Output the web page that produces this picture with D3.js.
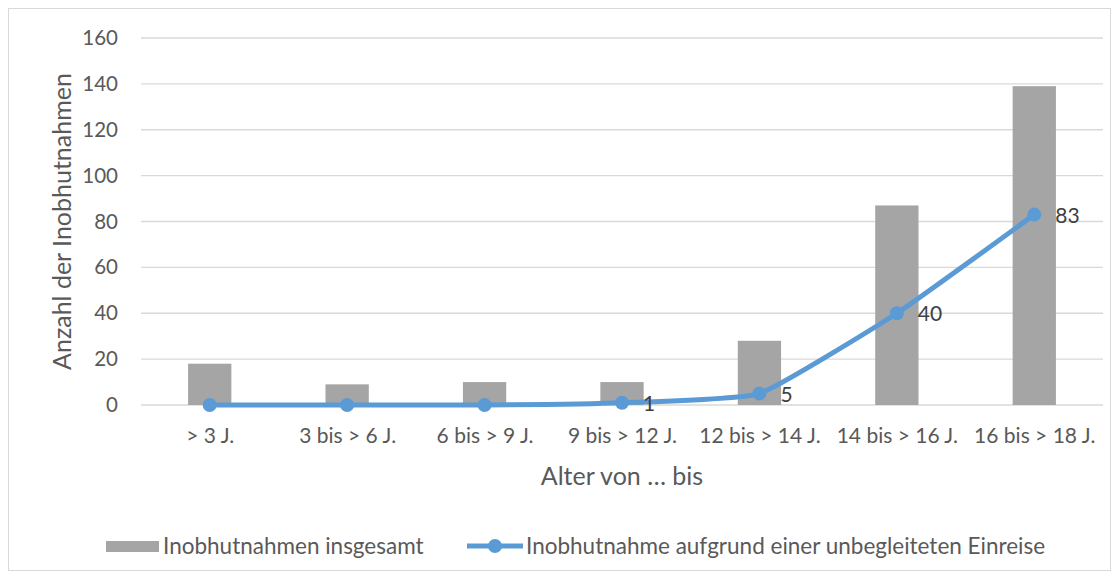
<!DOCTYPE html>
<html>
<head>
<meta charset="utf-8">
<script src="https://cdn.jsdelivr.net/npm/d3@7"></script>
<style>
  body { margin: 0; background: #fff; }
  svg text { font-family: Lato, "Open Sans", sans-serif; fill: #595959; }
</style>
</head>
<body>
<div id="chart"></div>
<script>
const categories = ["> 3 J.", "3 bis > 6 J.", "6 bis > 9 J.", "9 bis > 12 J.", "12 bis > 14 J.", "14 bis > 16 J.", "16 bis > 18 J."];
const totalValues = [18, 9, 10, 10, 28, 87, 139];
const unaccompaniedValues = [0, 0, 0, 1, 5, 40, 83];
const yTicks = [0, 20, 40, 60, 80, 100, 120, 140, 160];
const seriesNames = ["Inobhutnahmen insgesamt", "Inobhutnahme aufgrund einer unbegleiteten Einreise"];

const width = 1119, height = 579;
const margin = { top: 38, right: 16, bottom: 174, left: 141 };
const barColor = "#a5a5a5", lineColor = "#5b9bd5";

const svg = d3.select("#chart").append("svg")
  .attr("width", width)
  .attr("height", height);

// outer chart border
svg.append("rect")
  .attr("x", 8.5).attr("y", 8.5)
  .attr("width", width - 17).attr("height", height - 17)
  .attr("fill", "#fff")
  .attr("stroke", "#d9d9d9");

const x = d3.scaleBand()
  .domain(categories)
  .range([margin.left, width - margin.right])
  .paddingInner(0.685)
  .paddingOuter(0.3425);

const xc = d => x(d) + x.bandwidth() / 2;

const y = d3.scaleLinear()
  .domain([0, 160])
  .range([height - margin.bottom, margin.top]);

// gridlines
svg.append("g")
  .selectAll("line")
  .data(yTicks)
  .join("line")
  .attr("x1", margin.left)
  .attr("x2", width - margin.right)
  .attr("y1", d => y(d))
  .attr("y2", d => y(d))
  .attr("stroke", "#d9d9d9")
  .attr("stroke-width", 1.3);

// y axis labels
const yAxis = svg.append("g")
  .attr("transform", `translate(${margin.left - 23},0)`)
  .call(d3.axisLeft(y).tickValues(yTicks).tickSize(0).tickPadding(0));
yAxis.select(".domain").remove();
yAxis.selectAll("text")
  .style("font-size", "20.5px")
  .attr("fill", "#595959");

// x axis labels
const xAxis = svg.append("g")
  .attr("transform", `translate(0,${y(0)})`)
  .call(d3.axisBottom(d3.scalePoint().domain(categories).range([xc(categories[0]), xc(categories[6])])).tickSize(0).tickPadding(23));
xAxis.select(".domain").remove();
xAxis.selectAll("text")
  .style("font-size", "21px")
  .attr("fill", "#595959");

// bars
svg.append("g")
  .selectAll("rect")
  .data(totalValues)
  .join("rect")
  .attr("x", (d, i) => x(categories[i]))
  .attr("y", d => y(d))
  .attr("width", x.bandwidth())
  .attr("height", d => y(0) - y(d))
  .attr("fill", barColor);

// line (light smoothing, like the reference)
const line = d3.line()
  .x((d, i) => xc(categories[i]))
  .y(d => y(d))
  .curve(d3.curveCardinal.tension(0.6));

svg.append("path")
  .datum(unaccompaniedValues)
  .attr("d", line)
  .attr("fill", "none")
  .attr("stroke", lineColor)
  .attr("stroke-width", 5)
  .attr("stroke-linecap", "round");

svg.append("g")
  .selectAll("circle")
  .data(unaccompaniedValues)
  .join("circle")
  .attr("cx", (d, i) => xc(categories[i]))
  .attr("cy", d => y(d))
  .attr("r", 7)
  .attr("fill", lineColor);

// data labels (zeros not labelled)
svg.append("g")
  .selectAll("text")
  .data(unaccompaniedValues.map((v, i) => ({ v, i })).filter(d => d.v > 0))
  .join("text")
  .attr("x", d => xc(categories[d.i]) + 21)
  .attr("y", d => y(d.v) + 8)
  .style("font-size", "21px")
  .style("fill", "#404040")
  .text(d => d.v);

// axis titles
svg.append("text")
  .attr("transform", `translate(71,${(y(0) + y(160)) / 2}) rotate(-90)`)
  .attr("text-anchor", "middle")
  .style("font-size", "25px")
  .text("Anzahl der Inobhutnahmen");

svg.append("text")
  .attr("x", (margin.left + width - margin.right) / 2)
  .attr("y", 485)
  .attr("text-anchor", "middle")
  .style("font-size", "25px")
  .text("Alter von … bis");

// legend
const legend = svg.append("g");
legend.append("rect")
  .attr("x", 106).attr("y", 541)
  .attr("width", 53).attr("height", 11)
  .attr("fill", barColor);
legend.append("text")
  .attr("x", 163).attr("y", 554)
  .style("font-size", "22.5px")
  .text(seriesNames[0]);

legend.append("line")
  .attr("x1", 467).attr("x2", 523)
  .attr("y1", 546).attr("y2", 546)
  .attr("stroke", lineColor)
  .attr("stroke-width", 5);
legend.append("circle")
  .attr("cx", 495).attr("cy", 546)
  .attr("r", 7)
  .attr("fill", lineColor);
legend.append("text")
  .attr("x", 526).attr("y", 554)
  .style("font-size", "22.5px")
  .text(seriesNames[1]);
</script>
</body>
</html>
